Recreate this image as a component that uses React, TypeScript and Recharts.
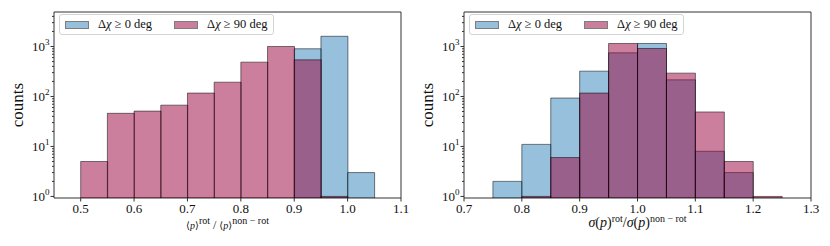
import React from "react";
import { BarChart, Bar, XAxis, YAxis, Legend, ReferenceArea } from "recharts";

// bin left edges, width 0.05
const LEFT_BINS = [0.45, 0.5, 0.55, 0.6, 0.65, 0.7, 0.75, 0.8, 0.85, 0.9, 0.95, 1.0, 1.05];
const LEFT_ALL = [null, null, null, null, null, null, null, null, null, 900, 1600, 3, null];
const LEFT_FLIP = [null, 5, 46, 51, 67, 117, 193, 486, 1000, 541, 1, null, null];

const RIGHT_BINS = [0.7, 0.75, 0.8, 0.85, 0.9, 0.95, 1.0, 1.05, 1.1, 1.15, 1.2, 1.25];
const RIGHT_ALL = [null, 2, 11, 93, 321, 747, 1148, 215, 8, 3, null, null];
const RIGHT_FLIP = [null, null, 1, 6, 117, 1148, 912, 293, 49, 5, 1, null];

const LEFT_X_TICKS = [0.5, 0.6, 0.7, 0.8, 0.9, 1.0, 1.1];
const RIGHT_X_TICKS = [0.7, 0.8, 0.9, 1.0, 1.1, 1.2, 1.3];
const Y_TICKS = [1, 10, 100, 1000];
const Y_MINOR = [
  2, 3, 4, 5, 6, 7, 8, 9, 20, 30, 40, 50, 60, 70, 80, 90, 200, 300, 400, 500,
  600, 700, 800, 900, 2000, 3000, 4000,
];
const Y_DOMAIN = [0.93, 4900];
const SERIES_NAMES = ["Δχ ≥ 0 deg", "Δχ ≥ 90 deg"];

const BLUE = "#2d81b9";
const MAGENTA = "#990039";
const AXIS = "#333";
const INK = "#111";
const FONT = "'Liberation Serif', 'DejaVu Serif', serif";
const BIN_W = 0.05;
const TOP = 12;
const PLOT_H = 186;
const PLOT_W = 347;

// y ticks: majors get a label and a longer tick, minors only a short tick
const LogTick = (props: any) => {
  const { x, y, payload } = props;
  const major = Y_TICKS.includes(payload.value);
  const exp = Math.round(Math.log10(payload.value));
  return (
    <g>
      <line x1={x - (major ? 3.5 : 2)} x2={x} y1={y} y2={y} stroke={AXIS} strokeWidth={1} />
      {major && (
        <text x={x - 4.5} y={y} dy={5} textAnchor="end" fill={INK} fontFamily={FONT} fontSize={13}>
          10
          <tspan dy={-6} fontSize={9}>
            {exp}
          </tspan>
        </text>
      )}
    </g>
  );
};

const YLabel = ({ cx }: any) => {
  const y = TOP + PLOT_H / 2;
  return (
    <text
      x={cx}
      y={y}
      transform={`rotate(-90 ${cx} ${y})`}
      textAnchor="middle"
      dominantBaseline="central"
      fill={INK}
      fontFamily={FONT}
      fontSize={17}
    >
      counts
    </text>
  );
};

const XLabel = ({ cx, kind }: any) => {
  const mean = kind === "mean";
  const y = TOP + PLOT_H + (mean ? 31 : 29);
  const sup = { dy: -5, fontSize: 10 };
  const back = -sup.dy;
  return (
    <text x={cx} y={y} textAnchor="middle" fill={INK} fontFamily={FONT} fontSize={mean ? 11 : 14}>
      {mean ? (
        <>
          <tspan fontSize={10}>⟨</tspan>
          <tspan fontStyle="italic" fontSize={10}>p</tspan>
          <tspan fontSize={10}>⟩</tspan>
          <tspan {...sup}>rot</tspan>
          <tspan dy={back} fontSize={12}>{" / "}</tspan>
          <tspan fontSize={10}>⟨</tspan>
          <tspan fontStyle="italic" fontSize={10}>p</tspan>
          <tspan fontSize={10}>⟩</tspan>
          <tspan {...sup}>non − rot</tspan>
        </>
      ) : (
        <>
          <tspan fontStyle="italic">σ</tspan>
          <tspan>(</tspan>
          <tspan fontStyle="italic">p</tspan>
          <tspan>)</tspan>
          <tspan {...sup}>rot</tspan>
          <tspan dy={back}>/</tspan>
          <tspan fontStyle="italic">σ</tspan>
          <tspan>(</tspan>
          <tspan fontStyle="italic">p</tspan>
          <tspan>)</tspan>
          <tspan {...sup}>non − rot</tspan>
        </>
      )}
    </text>
  );
};

const mathName = (name: string) => {
  const [a, b] = name.split("χ");
  return (
    <>
      {a}
      <i>χ</i>
      {b}
    </>
  );
};

const LegendBox = ({ payload }: any) => (
  <div
    style={{
      display: "flex",
      alignItems: "center",
      height: 19,
      padding: "0 6px 0 5px",
      border: "1px solid #d4d4d4",
      borderRadius: 3,
      background: "rgba(255,255,255,0.85)",
      fontFamily: FONT,
      fontSize: 12.5,
      color: INK,
      whiteSpace: "nowrap",
    }}
  >
    {(payload || []).map((entry: any, i: number) => (
      <div key={`leg-${i}`} style={{ display: "flex", alignItems: "center", marginLeft: i ? 22 : 0 }}>
        <span
          style={{
            display: "inline-block",
            width: 22,
            height: 6,
            marginRight: 9,
            background: entry.color,
            opacity: 0.5,
            border: "1px solid #000",
          }}
        />
        <span>{mathName(entry.value)}</span>
      </div>
    ))}
  </div>
);

function Panel({ bins, all, flip, xTicks, kind, yWidth }: any) {
  const data = bins.map((b: number, i: number) => ({
    bin: b.toFixed(2),
    mid: b + BIN_W / 2,
    all: all[i],
    flip: flip[i],
  }));
  const xDomain = [bins[0], bins[bins.length - 1] + BIN_W];
  const tickFont = { fill: INK, fontFamily: FONT, fontSize: 13 };
  return (
    <BarChart
      width={415}
      height={246}
      data={data}
      margin={{ top: TOP, right: 415 - yWidth - PLOT_W, bottom: 0, left: 0 }}
      barCategoryGap={0}
      barGap={0}
    >
      <XAxis
        xAxisId="num"
        dataKey="mid"
        type="number"
        domain={xDomain}
        ticks={xTicks}
        allowDataOverflow
        interval={0}
        height={48}
        tickSize={3.5}
        tickMargin={2}
        tickFormatter={(v: number) => v.toFixed(1)}
        tick={tickFont}
        axisLine={false}
        tickLine={{ stroke: AXIS, strokeWidth: 1 }}
        label={<XLabel kind={kind} cx={yWidth + PLOT_W / 2} />}
      />
      <XAxis xAxisId="a" dataKey="bin" hide height={0} />
      <XAxis xAxisId="b" dataKey="bin" hide height={0} />
      <YAxis
        yAxisId="y"
        scale="log"
        domain={Y_DOMAIN}
        allowDataOverflow
        ticks={[...Y_MINOR, ...Y_TICKS]}
        interval={0}
        width={yWidth}
        tickSize={0}
        tickMargin={0}
        tickLine={false}
        axisLine={false}
        tick={<LogTick />}
        label={<YLabel cx={yWidth - 36.5} />}
      />
      <Bar
        xAxisId="a"
        yAxisId="y"
        dataKey="all"
        name={SERIES_NAMES[0]}
        fill={BLUE}
        fillOpacity={0.5}
        stroke="#000"
        strokeOpacity={0.5}
        isAnimationActive={false}
      />
      <Bar
        xAxisId="b"
        yAxisId="y"
        dataKey="flip"
        name={SERIES_NAMES[1]}
        fill={MAGENTA}
        fillOpacity={0.5}
        stroke="#000"
        strokeOpacity={0.5}
        isAnimationActive={false}
      />
      <ReferenceArea
        xAxisId="num"
        yAxisId="y"
        x1={xDomain[0]}
        x2={xDomain[1]}
        y1={Y_DOMAIN[0]}
        y2={Y_DOMAIN[1]}
        fill="none"
        stroke={AXIS}
        strokeWidth={1}
        ifOverflow="visible"
      />
      <Legend
        layout="horizontal"
        verticalAlign="middle"
        align="center"
        content={<LegendBox />}
        wrapperStyle={{ left: yWidth + 5, top: 14, width: "auto", height: "auto" }}
      />
    </BarChart>
  );
}

export default function App() {
  return (
    <div
      style={{
        position: "absolute",
        left: 0,
        top: 0,
        width: 830,
        height: 246,
        background: "#fff",
        display: "flex",
      }}
    >
      <Panel
        bins={LEFT_BINS}
        all={LEFT_ALL}
        flip={LEFT_FLIP}
        xTicks={LEFT_X_TICKS}
        kind="mean"
        yWidth={54}
      />
      <Panel
        bins={RIGHT_BINS}
        all={RIGHT_ALL}
        flip={RIGHT_FLIP}
        xTicks={RIGHT_X_TICKS}
        kind="sigma"
        yWidth={49}
      />
    </div>
  );
}
